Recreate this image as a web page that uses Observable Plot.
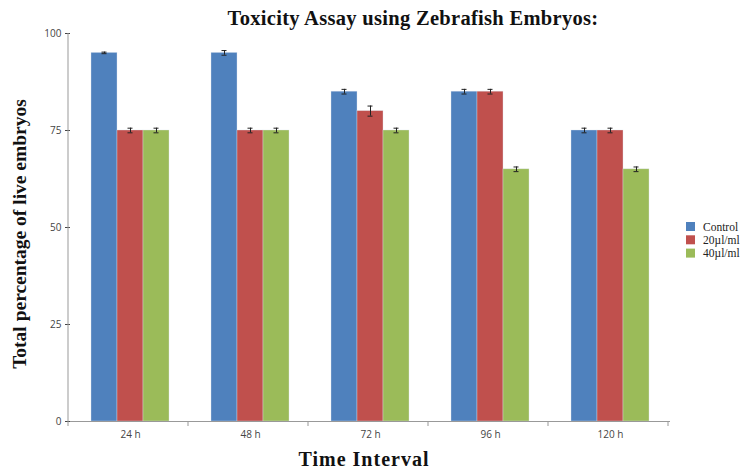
<!DOCTYPE html>
<html><head><meta charset="utf-8">
<script src="https://cdn.jsdelivr.net/npm/d3@7"></script>
<script src="https://cdn.jsdelivr.net/npm/@observablehq/plot@0.6"></script>
<style>body{margin:0;background:#fff}#c{position:relative;width:745px;height:470px}</style>
</head><body><div id="c"></div>
<script>
const times = ["24 h", "48 h", "72 h", "96 h", "120 h"];
const seriesNames = ["Control", "20µl/ml", "40µl/ml"];
const colors = ["#4F81BD", "#C0504D", "#9BBB59"];
const control = [95, 95, 85, 85, 75];
const dose20 = [75, 75, 80, 85, 75];
const dose40 = [75, 75, 75, 65, 65];
const errControl = [0.2, 0.6, 0.6, 0.6, 0.6];
const err20 = [0.6, 0.6, 1.3, 0.6, 0.6];
const err40 = [0.6, 0.6, 0.6, 0.6, 0.6];
const yTicks = [0, 25, 50, 75, 100];

const vals = [control, dose20, dose40];
const errs = [errControl, err20, err40];
const data = [];
times.forEach((t, i) => seriesNames.forEach((s, j) => data.push({time: t, series: s, value: vals[j][i], err: errs[j][i]})));

const W = 745, H = 470, ML = 68, MR = 74, MT = 33, MB = 49;
const chart = Plot.plot({
  width: W, height: H,
  marginLeft: ML, marginRight: MR, marginTop: MT, marginBottom: MB,
  style: {fontFamily: "'Open Sans', 'Liberation Sans', sans-serif", fontSize: "10px", color: "#444", background: "#fff"},
  fx: {domain: times, padding: 0, label: null, axis: "bottom", tickSize: 0, tickPadding: 9},
  x: {domain: seriesNames, paddingInner: 0, paddingOuter: 0.73, axis: null},
  y: {domain: [0, 100], ticks: yTicks, tickSize: 5, tickPadding: 4, label: null},
  color: {domain: seriesNames, range: colors},
  marks: [
    Plot.barY(data, {fx: "time", x: "series", y: "value", fill: "series", stroke: "#dfe6f0", strokeWidth: 0.6, strokeOpacity: 0.6}),
    Plot.ruleX(data, {fx: "time", x: "series", y1: d => d.value - d.err, y2: d => d.value + d.err, stroke: "#222", strokeWidth: 1}),
    Plot.tickY(data, {fx: "time", x: "series", y: d => d.value - d.err, stroke: "#222", insetLeft: 10.5, insetRight: 10.5}),
    Plot.tickY(data, {fx: "time", x: "series", y: d => d.value + d.err, stroke: "#222", insetLeft: 10.5, insetRight: 10.5}),
    Plot.ruleY([0], {stroke: "#999"})
  ]
});
document.getElementById("c").appendChild(chart);

const svg = d3.select(chart);
const fx = chart.scale("fx");
const y0 = H - MB;
svg.append("line").attr("x1", ML).attr("x2", ML).attr("y1", MT).attr("y2", y0).attr("stroke", "#999");
const r0 = fx.range[0];
for (let i = 0; i <= times.length; i++) {
  const xx = r0 + i * fx.step;
  svg.append("line").attr("x1", xx).attr("x2", xx).attr("y1", y0).attr("y2", y0 + 5).attr("stroke", "#999");
}
svg.selectAll("[aria-label='y-axis tick']").attr("stroke", "#999");
const serif = "'Liberation Serif', 'DejaVu Serif', serif";
svg.append("text").text("Toxicity Assay using Zebrafish Embryos:")
  .attr("x", 413).attr("y", 25).attr("text-anchor", "middle")
  .attr("font-family", serif).attr("font-weight", "bold").attr("font-size", 20.5).attr("letter-spacing", 0.3).attr("fill", "#111");
svg.append("text").text("Total percentage of live embryos")
  .attr("transform", "translate(26,234) rotate(-90)").attr("text-anchor", "middle")
  .attr("font-family", serif).attr("font-weight", "bold").attr("font-size", 19.5).attr("fill", "#111");
svg.append("text").text("Time Interval")
  .attr("x", 364).attr("y", 466).attr("text-anchor", "middle")
  .attr("font-family", serif).attr("font-weight", "bold").attr("font-size", 20).attr("letter-spacing", 1).attr("fill", "#111");
const lg = svg.append("g").attr("transform", "translate(686,222)");
seriesNames.forEach((s, i) => {
  lg.append("rect").attr("x", 0).attr("y", i * 13.3).attr("width", 9).attr("height", 9).attr("fill", colors[i]);
  lg.append("text").text(s).attr("x", 17).attr("y", i * 13.3 + 8.5).attr("text-anchor", "start")
    .attr("font-family", serif).attr("font-size", 11.5).attr("fill", "#222");
});
</script></body></html>
